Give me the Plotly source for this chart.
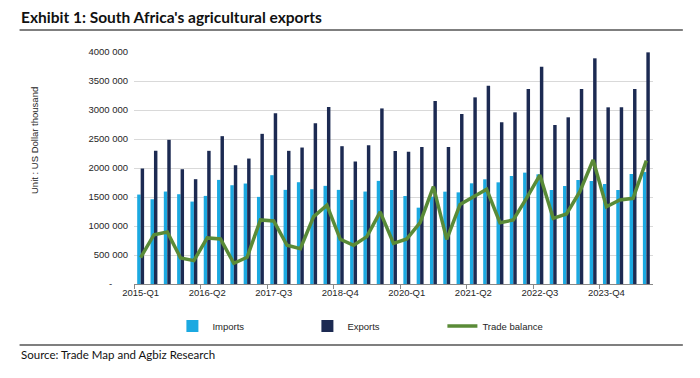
import plotly.graph_objects as go

quarters = [f"{y}-Q{q}" for y in range(2015, 2025) for q in range(1, 5)][:39]

imports = [1542, 1461, 1594, 1548, 1421, 1519, 1795, 1703, 1732, 1502,
           1876, 1623, 1755, 1634, 1692, 1623, 1450, 1594, 1778, 1621,
           1517, 1316, 1506, 1592, 1580, 1736, 1805, 1753, 1862, 1920,
           1891, 1621, 1690, 1793, 1776, 1724, 1621, 1897, 1930]
exports = [1991, 2296, 2486, 1979, 1807, 2296, 2549, 2048, 2163, 2589,
           2946, 2296, 2353, 2773, 3050, 2376, 2112, 2394, 3027, 2293,
           2282, 2362, 3155, 2362, 2931, 3218, 3420, 2787, 2960, 3362,
           3747, 2741, 2874, 3362, 3891, 3046, 3046, 3362, 3994]
balance = [455, 850, 898, 449, 403, 794, 776, 357, 460, 1105,
           1087, 667, 610, 1162, 1358, 771, 667, 817, 1243, 700,
           777, 1059, 1678, 770, 1370, 1506, 1632, 1057, 1103, 1480,
           1879, 1132, 1207, 1592, 2138, 1333, 1448, 1477, 2126]

imports = [v * 1000 for v in imports]
exports = [v * 1000 for v in exports]
balance = [v * 1000 for v in balance]

y_tickvals = [0, 500000, 1000000, 1500000, 2000000, 2500000, 3000000, 3500000, 4000000]
y_ticktext = ["-" + "\u00a0" * 6, "500 000", "1000 000", "1500 000", "2000 000", "2500 000",
              "3000 000", "3500 000", "4000 000"]

SANS = "Liberation Sans, Arial"
TXT = "#262626"

fig = go.Figure()
fig.add_trace(go.Bar(x=quarters, y=imports, name="Imports", marker_color="#1BA9E1",
                     marker_line_width=0))
fig.add_trace(go.Bar(x=quarters, y=exports, name="Exports", marker_color="#1C2A52",
                     marker_line_width=0))
fig.add_trace(go.Scatter(x=quarters, y=balance, name="Trade balance", mode="lines",
                         line=dict(color="#5A8B37", width=3.5)))

# plot area: x 134..653, y 52..284 (height 232)
fig.update_layout(
    width=700, height=378,
    margin=dict(l=134, r=47, t=52, b=94, autoexpand=False),
    paper_bgcolor="white", plot_bgcolor="white",
    barmode="group", bargap=0.48, bargroupgap=0.0,
    font=dict(family=SANS, size=9.5, color=TXT),
    showlegend=True,
    legend=dict(orientation="h", x=0.074, xanchor="left", y=-0.118, yanchor="top",
                entrywidth=90, entrywidthmode="pixels",
                font=dict(family=SANS, size=9.5, color=TXT),
                itemwidth=30, bgcolor="rgba(0,0,0,0)"),
    xaxis=dict(type="category", tickmode="linear", tick0=0, dtick=5, tickangle=0,
               tickson="boundaries", ticks="outside", ticklen=4, tickcolor="#888",
               showline=True, linecolor="#888", linewidth=1, showgrid=False,
               automargin=False,
               tickfont=dict(family=SANS, size=9.5, color=TXT)),
    yaxis=dict(range=[0, 4000000], tickvals=y_tickvals, ticktext=y_ticktext,
               showgrid=True, gridcolor="#D9D9D9", gridwidth=1, zeroline=False,
               showline=False, ticks="", ticklabelstandoff=5, automargin=False,
               tickfont=dict(family=SANS, size=9.5, color=TXT)),
)

fig.add_annotation(text="Unit : US Dollar thousand", xref="paper", yref="paper",
                   x=-0.193, y=0.62, textangle=-90, showarrow=False,
                   xanchor="center", yanchor="middle",
                   font=dict(family=SANS, size=9.5, color=TXT))

fig.add_annotation(text="<b>Exhibit 1: South Africa's agricultural exports</b>",
                   xref="paper", yref="paper", x=-0.222, y=1.151,
                   xanchor="left", yanchor="middle", showarrow=False,
                   font=dict(family="Lato, Open Sans, sans-serif", size=15.5, color="#111"))
fig.add_annotation(text="Source: Trade Map and Agbiz Research",
                   xref="paper", yref="paper", x=-0.222, y=-0.305,
                   xanchor="left", yanchor="middle", showarrow=False,
                   font=dict(family="Lato, Open Sans, sans-serif", size=11.5, color="#111"))

fig.add_shape(type="line", xref="paper", yref="paper", x0=-0.2205, x1=1.0575,
              y0=1.095, y1=1.095, line=dict(color="#555", width=1.5))
fig.add_shape(type="line", xref="paper", yref="paper", x0=-0.2205, x1=1.0575,
              y0=-0.263, y1=-0.263, line=dict(color="#555", width=1.5))

fig.write_html("out.html", config={"displayModeBar": False},
               post_script="document.body.style.margin='0';document.body.style.overflow='hidden';")
